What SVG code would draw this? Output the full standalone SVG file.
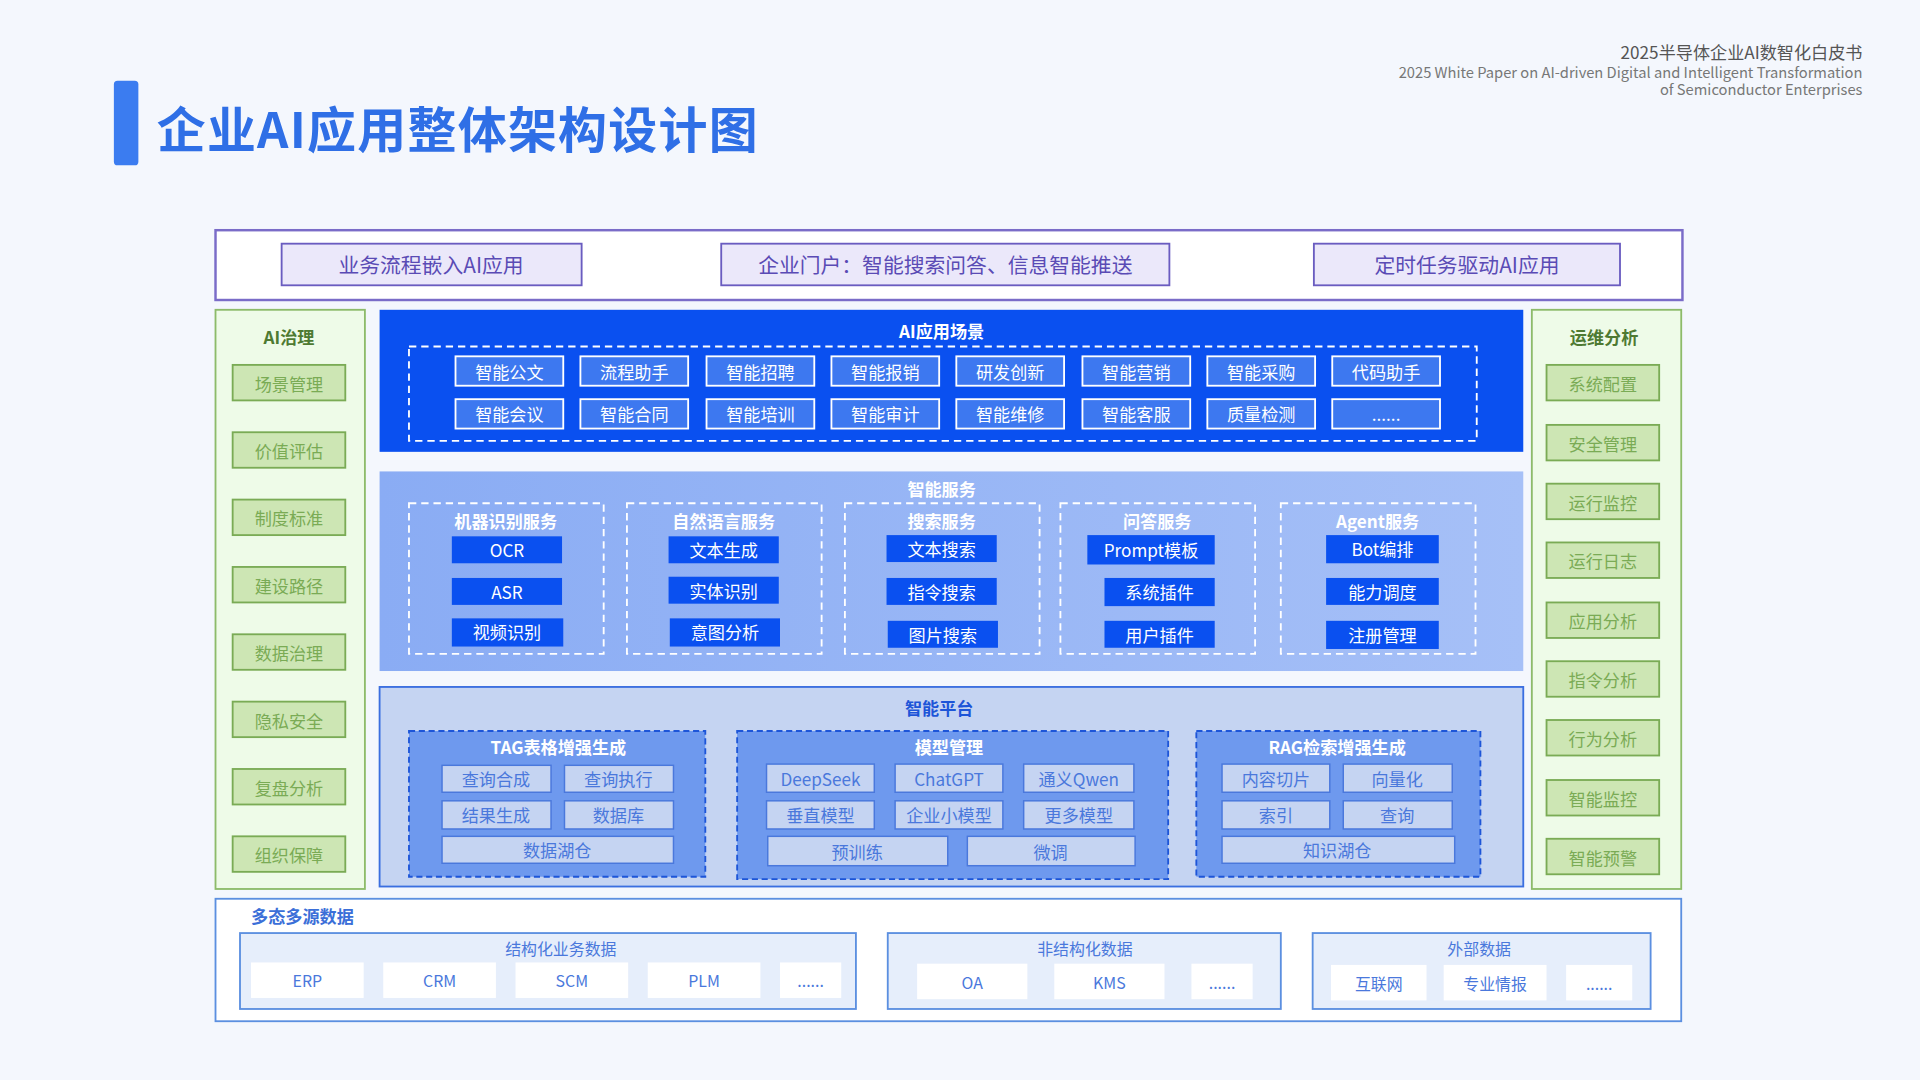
<svg xmlns="http://www.w3.org/2000/svg" width="1920" height="1080" viewBox="0 0 1920 1080">
<defs>
<linearGradient id="svc" x1="0" y1="0" x2="1" y2="0"><stop offset="0" stop-color="#8aacf4"/><stop offset="1" stop-color="#a6c0f7"/></linearGradient>
<style>
text{font-family:"Noto Sans CJK SC","Noto Sans",sans-serif;text-anchor:middle;dominant-baseline:central}
.b{font-weight:700}
.gi rect{fill:#cde6b4;stroke:#7aab55;stroke-width:1.5}
.gi text{fill:#7aab55;font-size:14px}
.sc rect{fill:#3d78f0;stroke:#fff;stroke-width:1.5}
.sc text{fill:#fff;font-size:14px}
.sv rect{fill:#0a50f0}
.sv text{fill:#fff;font-size:14px}
.dw{fill:none;stroke:#fff;stroke-width:1.5;stroke-dasharray:6 4}
.pi rect.pt{fill:#6e99ee;stroke:#1d55d8;stroke-width:1.5;stroke-dasharray:5 3}
.pi rect{fill:#c5d4f2;stroke:#4a78dc;stroke-width:1.2}
.pi text{fill:#4a78dc;font-size:14px}
.di rect{fill:#fff}
.di text{fill:#4a78dc;font-size:13px}
.top rect{fill:#ebe8fa;stroke:#6a5cc0;stroke-width:1.5}
.top text{fill:#5a4bb5;font-size:17px}
</style>
</defs>
<rect width="1920" height="1080" fill="#f4f7fd"/>
<g transform="scale(1.22449)">
<g id="header">
<rect x="93" y="66" width="20" height="69" rx="3" fill="#3b7cf0"/>
<text x="128" y="103" class="b" style="text-anchor:start;font-size:40px;letter-spacing:1px;fill:#2f6fe6">企业AI应用整体架构设计图</text>
<text x="1521" y="42" style="text-anchor:end;font-size:14px;fill:#555">2025半导体企业AI数智化白皮书</text>
<text x="1521" y="58" style="text-anchor:end;font-size:12px;fill:#777">2025 White Paper on AI-driven Digital and Intelligent Transformation</text>
<text x="1521" y="72" style="text-anchor:end;font-size:12px;fill:#777">of Semiconductor Enterprises</text>
</g>
<g id="top-apps" class="top">
<rect x="176" y="188" width="1198" height="57" style="fill:#fff;stroke:#7a6cc8;stroke-width:2"/>
<rect x="230" y="199" width="245" height="34"/><text x="352" y="216">业务流程嵌入AI应用</text>
<rect x="589" y="199" width="366" height="34"/><text x="772" y="216">企业门户：智能搜索问答、信息智能推送</text>
<rect x="1073" y="199" width="250" height="34"/><text x="1198" y="216">定时任务驱动AI应用</text>
</g>
<g id="ai-governance" class="gi">
<rect x="176" y="253" width="122" height="473" style="fill:#eefbe8;stroke:#8dbb6a"/>
<text x="236" y="275" class="b" style="fill:#4e7a32">AI治理</text>
<rect x="190" y="298" width="92" height="29"/><text x="236" y="313">场景管理</text>
<rect x="190" y="353" width="92" height="29"/><text x="236" y="368">价值评估</text>
<rect x="190" y="408" width="92" height="29"/><text x="236" y="423">制度标准</text>
<rect x="190" y="463" width="92" height="29"/><text x="236" y="478">建设路径</text>
<rect x="190" y="518" width="92" height="29"/><text x="236" y="533">数据治理</text>
<rect x="190" y="573" width="92" height="29"/><text x="236" y="588">隐私安全</text>
<rect x="190" y="628" width="92" height="29"/><text x="236" y="643">复盘分析</text>
<rect x="190" y="683" width="92" height="29"/><text x="236" y="698">组织保障</text>
</g>
<g id="ops-analysis" class="gi">
<rect x="1251" y="253" width="122" height="473" style="fill:#eefbe8;stroke:#8dbb6a"/>
<text x="1310" y="275" class="b" style="fill:#4e7a32">运维分析</text>
<rect x="1263" y="298" width="92" height="29"/><text x="1309" y="313">系统配置</text>
<rect x="1263" y="347" width="92" height="29"/><text x="1309" y="362">安全管理</text>
<rect x="1263" y="395" width="92" height="29"/><text x="1309" y="410">运行监控</text>
<rect x="1263" y="443" width="92" height="29"/><text x="1309" y="458">运行日志</text>
<rect x="1263" y="492" width="92" height="29"/><text x="1309" y="507">应用分析</text>
<rect x="1263" y="540" width="92" height="29"/><text x="1309" y="555">指令分析</text>
<rect x="1263" y="588" width="92" height="29"/><text x="1309" y="603">行为分析</text>
<rect x="1263" y="637" width="92" height="29"/><text x="1309" y="652">智能监控</text>
<rect x="1263" y="685" width="92" height="29"/><text x="1309" y="700">智能预警</text>
</g>
<g id="scenarios" class="sc">
<rect x="310" y="253" width="934" height="116" style="fill:#0a50f0;stroke:none"/>
<text x="769" y="270" class="b">AI应用场景</text>
<rect x="334" y="283" width="872" height="77" style="fill:none;stroke-dasharray:6 4"/>
<rect x="372" y="291" width="88" height="24"/><text x="416" y="303">智能公文</text>
<rect x="474" y="291" width="88" height="24"/><text x="518" y="303">流程助手</text>
<rect x="577" y="291" width="88" height="24"/><text x="621" y="303">智能招聘</text>
<rect x="679" y="291" width="88" height="24"/><text x="723" y="303">智能报销</text>
<rect x="781" y="291" width="88" height="24"/><text x="825" y="303">研发创新</text>
<rect x="884" y="291" width="88" height="24"/><text x="928" y="303">智能营销</text>
<rect x="986" y="291" width="88" height="24"/><text x="1030" y="303">智能采购</text>
<rect x="1088" y="291" width="88" height="24"/><text x="1132" y="303">代码助手</text>
<rect x="372" y="326" width="88" height="24"/><text x="416" y="338">智能会议</text>
<rect x="474" y="326" width="88" height="24"/><text x="518" y="338">智能合同</text>
<rect x="577" y="326" width="88" height="24"/><text x="621" y="338">智能培训</text>
<rect x="679" y="326" width="88" height="24"/><text x="723" y="338">智能审计</text>
<rect x="781" y="326" width="88" height="24"/><text x="825" y="338">智能维修</text>
<rect x="884" y="326" width="88" height="24"/><text x="928" y="338">智能客服</text>
<rect x="986" y="326" width="88" height="24"/><text x="1030" y="338">质量检测</text>
<rect x="1088" y="326" width="88" height="24"/><text x="1132" y="338">......</text>
</g>
<g id="services" class="sv">
<rect x="310" y="385" width="934" height="163" style="fill:url(#svc)"/>
<text x="769" y="399" class="b">智能服务</text>
<rect x="334" y="411" width="159" height="123" class="dw" style="fill:none"/>
<rect x="512" y="411" width="159" height="123" class="dw" style="fill:none"/>
<rect x="690" y="411" width="159" height="123" class="dw" style="fill:none"/>
<rect x="866" y="411" width="159" height="123" class="dw" style="fill:none"/>
<rect x="1046" y="411" width="159" height="123" class="dw" style="fill:none"/>
<text x="413" y="425" class="b">机器识别服务</text>
<rect x="369" y="438" width="90" height="22"/><text x="414" y="449">OCR</text>
<rect x="369" y="472" width="90" height="22"/><text x="414" y="483">ASR</text>
<rect x="369" y="505" width="91" height="23"/><text x="414" y="516">视频识别</text>
<text x="591" y="425" class="b">自然语言服务</text>
<rect x="546" y="438" width="90" height="22"/><text x="591" y="449">文本生成</text>
<rect x="546" y="471" width="90" height="22"/><text x="591" y="482">实体识别</text>
<rect x="547" y="505" width="90" height="23"/><text x="592" y="516">意图分析</text>
<text x="769" y="425" class="b">搜索服务</text>
<rect x="724" y="437" width="90" height="22"/><text x="769" y="448">文本搜索</text>
<rect x="724" y="472" width="90" height="22"/><text x="769" y="483">指令搜索</text>
<rect x="725" y="507" width="90" height="22"/><text x="770" y="518">图片搜索</text>
<text x="945" y="425" class="b">问答服务</text>
<rect x="888" y="437" width="104" height="24"/><text x="940" y="449">Prompt模板</text>
<rect x="902" y="472" width="90" height="23"/><text x="947" y="483">系统插件</text>
<rect x="902" y="507" width="90" height="22"/><text x="947" y="518">用户插件</text>
<text x="1125" y="425" class="b">Agent服务</text>
<rect x="1083" y="437" width="92" height="23"/><text x="1129" y="448">Bot编排</text>
<rect x="1083" y="472" width="92" height="22"/><text x="1129" y="483">能力调度</text>
<rect x="1083" y="507" width="92" height="23"/><text x="1129" y="518">注册管理</text>
</g>
<g id="platform" class="pi">
<rect x="310" y="561" width="934" height="163" style="fill:#c5d4f2;stroke:#3a6ee0;stroke-width:1.5"/>
<text x="767" y="578" class="b" style="fill:#1d55d8">智能平台</text>
<rect x="334" y="597" width="242" height="119" class="pt"/>
<text x="456" y="610" class="b" style="fill:#fff">TAG表格增强生成</text>
<rect x="361" y="625" width="89" height="22"/><text x="405" y="636">查询合成</text>
<rect x="461" y="625" width="89" height="22"/><text x="505" y="636">查询执行</text>
<rect x="361" y="654" width="89" height="23"/><text x="405" y="665">结果生成</text>
<rect x="461" y="654" width="89" height="23"/><text x="505" y="665">数据库</text>
<rect x="361" y="683" width="189" height="22"/><text x="455" y="694">数据湖仓</text>
<rect x="602" y="597" width="352" height="121" class="pt"/>
<text x="775" y="610" class="b" style="fill:#fff">模型管理</text>
<rect x="626" y="624" width="88" height="23"/><text x="670" y="636">DeepSeek</text>
<rect x="731" y="624" width="88" height="23"/><text x="775" y="636">ChatGPT</text>
<rect x="836" y="624" width="90" height="23"/><text x="881" y="636">通义Qwen</text>
<rect x="626" y="654" width="88" height="23"/><text x="670" y="665">垂直模型</text>
<rect x="731" y="654" width="88" height="23"/><text x="775" y="665">企业小模型</text>
<rect x="836" y="654" width="90" height="23"/><text x="881" y="665">更多模型</text>
<rect x="627" y="683" width="147" height="24"/><text x="700" y="695">预训练</text>
<rect x="790" y="683" width="137" height="24"/><text x="858" y="695">微调</text>
<rect x="977" y="597" width="232" height="119" class="pt"/>
<text x="1092" y="610" class="b" style="fill:#fff">RAG检索增强生成</text>
<rect x="998" y="624" width="88" height="23"/><text x="1042" y="636">内容切片</text>
<rect x="1097" y="624" width="89" height="23"/><text x="1141" y="636">向量化</text>
<rect x="998" y="654" width="88" height="23"/><text x="1042" y="665">索引</text>
<rect x="1097" y="654" width="89" height="23"/><text x="1141" y="665">查询</text>
<rect x="998" y="683" width="190" height="22"/><text x="1092" y="694">知识湖仓</text>
</g>
<g id="data" class="di">
<rect x="176" y="734" width="1197" height="100" style="fill:#fff;stroke:#5b8fe0;stroke-width:1.5"/>
<text x="205" y="748" class="b" style="text-anchor:start;font-size:14px;fill:#3b6fd8">多态多源数据</text>
<rect x="196" y="762" width="503" height="62" style="fill:#e6eefb;stroke:#5b8fe0;stroke-width:1.5"/>
<text x="458" y="775">结构化业务数据</text>
<rect x="205" y="786" width="92" height="29"/><text x="251" y="801">ERP</text>
<rect x="313" y="786" width="92" height="29"/><text x="359" y="801">CRM</text>
<rect x="421" y="786" width="92" height="29"/><text x="467" y="801">SCM</text>
<rect x="529" y="786" width="92" height="29"/><text x="575" y="801">PLM</text>
<rect x="637" y="786" width="50" height="29"/><text x="662" y="801">......</text>
<rect x="725" y="762" width="321" height="62" style="fill:#e6eefb;stroke:#5b8fe0;stroke-width:1.5"/>
<text x="886" y="775">非结构化数据</text>
<rect x="749" y="787" width="90" height="29"/><text x="794" y="802">OA</text>
<rect x="861" y="787" width="90" height="29"/><text x="906" y="802">KMS</text>
<rect x="973" y="787" width="50" height="29"/><text x="998" y="802">......</text>
<rect x="1072" y="762" width="276" height="62" style="fill:#e6eefb;stroke:#5b8fe0;stroke-width:1.5"/>
<text x="1208" y="775">外部数据</text>
<rect x="1087" y="788" width="78" height="29"/><text x="1126" y="803">互联网</text>
<rect x="1179" y="788" width="84" height="29"/><text x="1221" y="803">专业情报</text>
<rect x="1279" y="788" width="54" height="29"/><text x="1306" y="803">......</text>
</g>
<g id="connectors"/>
</g>
</svg>
